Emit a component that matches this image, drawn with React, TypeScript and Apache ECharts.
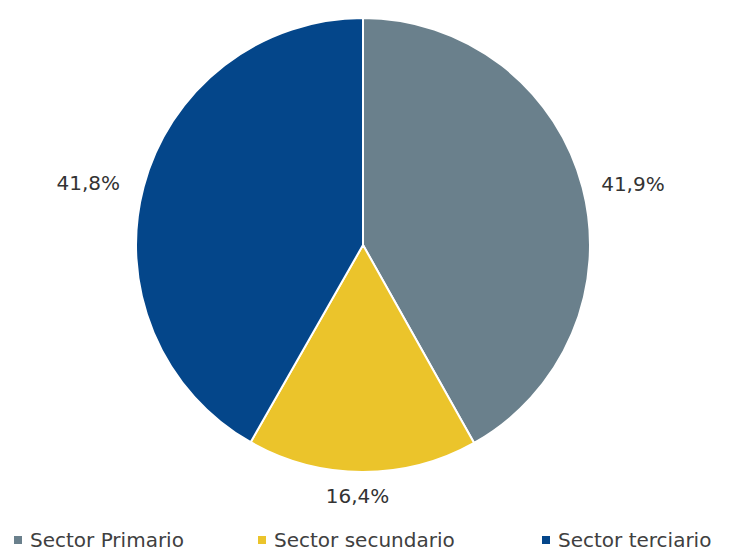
import React, { useEffect, useRef } from "react";
import * as echarts from "echarts";

const categories = ["Sector Primario", "Sector secundario", "Sector terciario"];
const values = [41.9, 16.4, 41.8];
const colors = ["#6a808c", "#ebc42b", "#04468a"];
const legendLefts = [12, 256, 540];

export default function App() {
  const ref = useRef<HTMLDivElement>(null);
  useEffect(() => {
    const chart = echarts.init(ref.current!, null, { renderer: "svg" });
    const font = "'DejaVu Sans', sans-serif";
    chart.setOption({
      animation: false,
      color: colors,
      legend: categories.map((c, i) => ({
        top: 530,
        left: legendLefts[i],
        padding: 0,
        icon: "rect",
        itemWidth: 10,
        itemHeight: 10,
        textStyle: { fontFamily: font, fontSize: 20, color: "#404040", padding: [0, 0, 0, 2], lineHeight: 18 },
        data: [c],
      })),
      series: [
        {
          type: "pie",
          center: [363, 245],
          radius: 227,
          startAngle: 90,
          clockwise: true,
          itemStyle: { borderColor: "#fff", borderWidth: 2 },
          label: {
            show: true,
            position: "outside",
            fontFamily: font,
            fontSize: 20,
            color: "#333",
            formatter: (p: any) => p.value.toFixed(1).replace(".", ",") + "%",
          },
          labelLine: { show: false, length: 14, length2: 0 },
          data: categories.map((c, i) =>
            i === 1
              ? { name: c, value: values[i], label: { offset: [32, 10] } }
              : i === 2
              ? { name: c, value: values[i], label: { offset: [-5, 0] } }
              : { name: c, value: values[i] }
          ),
        },
      ],
    });
    return () => chart.dispose();
  }, []);
  return (
    <div
      ref={ref}
      style={{ position: "fixed", left: 0, top: 0, width: 731, height: 552, background: "#fff" }}
    />
  );
}
